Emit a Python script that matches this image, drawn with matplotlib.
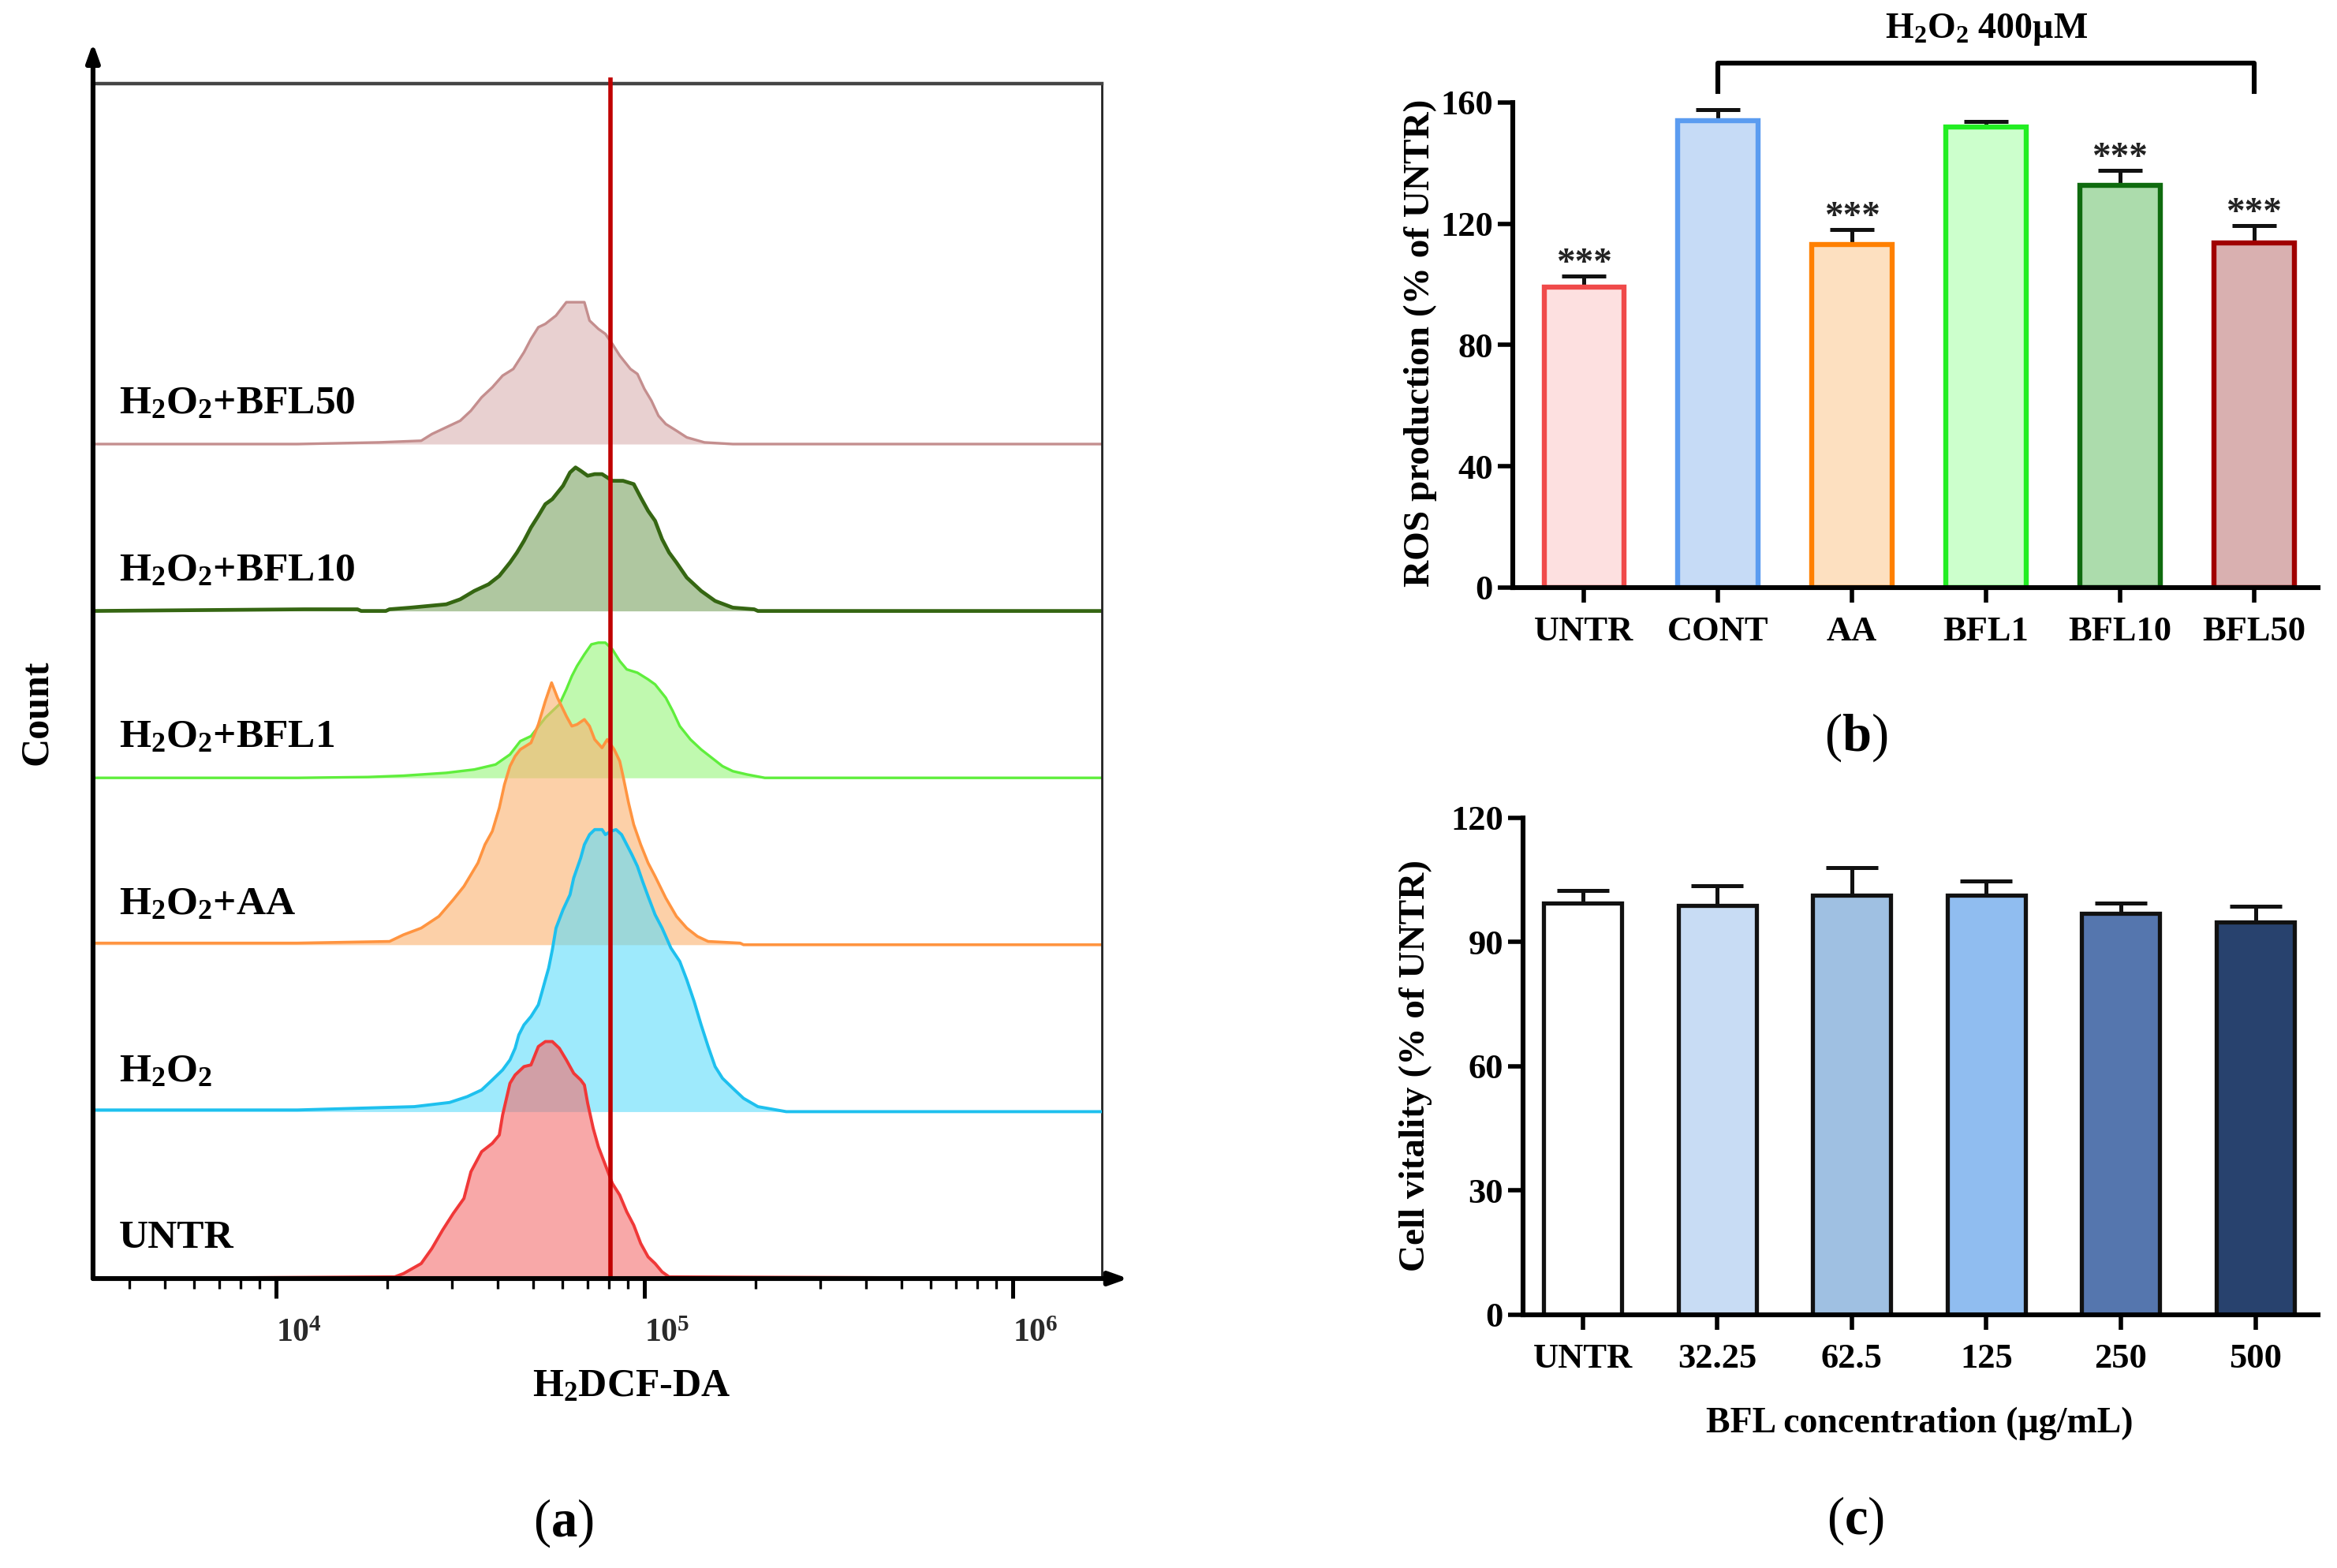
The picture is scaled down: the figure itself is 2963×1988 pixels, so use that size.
import numpy as np
import matplotlib.pyplot as plt
import matplotlib.transforms as mtransforms
from matplotlib.ticker import LogLocator, NullFormatter, FixedLocator

plt.rcParams['font.family'] = ['Liberation Serif', 'DejaVu Serif']
plt.rcParams['font.weight'] = 'bold'
plt.rcParams['mathtext.fontset'] = 'custom'
plt.rcParams['mathtext.rm'] = 'Liberation Serif'
plt.rcParams['mathtext.bf'] = 'Liberation Serif:bold'
plt.rcParams['mathtext.it'] = 'Liberation Serif:italic'
plt.rcParams['mathtext.default'] = 'bf'

# ---- (a) flow cytometry histograms: log10(H2DCF-DA), count in track units ----
untr_logx = [3.50, 4.322, 4.346, 4.394, 4.423, 4.452, 4.481, 4.510, 4.529, 4.558, 4.587, 4.606,
             4.615, 4.635, 4.649, 4.673, 4.692, 4.712, 4.731, 4.750, 4.769, 4.788, 4.808,
             4.827, 4.837, 4.846, 4.861, 4.875, 4.894, 4.913, 4.933, 4.952, 4.971, 4.990,
             5.010, 5.029, 5.048, 5.067, 6.25]
untr_count = [0.0, 0.01, 0.03, 0.09, 0.18, 0.29, 0.39, 0.48, 0.64, 0.76, 0.81, 0.86,
              0.98, 1.17, 1.22, 1.27, 1.28, 1.39, 1.42, 1.42, 1.38, 1.31, 1.23,
              1.19, 1.16, 1.05, 0.90, 0.79, 0.68, 0.57, 0.50, 0.40, 0.32, 0.21,
              0.13, 0.09, 0.04, 0.01, 0.0]

h2o2_logx = [3.50, 4.058, 4.375, 4.471, 4.519, 4.558, 4.587, 4.615, 4.635, 4.649, 4.659, 4.673,
             4.692, 4.712, 4.721, 4.731, 4.740, 4.750, 4.760, 4.779, 4.798, 4.808, 4.827,
             4.837, 4.851, 4.865, 4.885, 4.894, 4.909, 4.923, 4.938, 4.952, 4.966, 4.981,
             4.995, 5.010, 5.029, 5.048, 5.072, 5.096, 5.115, 5.135, 5.154, 5.173, 5.192,
             5.212, 5.240, 5.269, 5.308, 5.385, 6.25]
h2o2_count = [0.01, 0.01, 0.03, 0.055, 0.09, 0.13, 0.19, 0.25, 0.31, 0.38, 0.46, 0.52,
              0.57, 0.64, 0.71, 0.79, 0.86, 0.97, 1.10, 1.21, 1.30, 1.40, 1.52,
              1.60, 1.66, 1.69, 1.69, 1.66, 1.68, 1.69, 1.66, 1.60, 1.54, 1.47,
              1.38, 1.29, 1.18, 1.10, 0.98, 0.90, 0.79, 0.66, 0.52, 0.39, 0.27,
              0.20, 0.14, 0.08, 0.03, 0.0, 0.0]

aa_logx = [3.50, 4.058, 4.308, 4.346, 4.394, 4.442, 4.481, 4.510, 4.529, 4.548, 4.567, 4.587,
           4.606, 4.620, 4.635, 4.649, 4.663, 4.692, 4.712, 4.731, 4.748, 4.764, 4.788,
           4.803, 4.817, 4.837, 4.851, 4.865, 4.885, 4.899, 4.918, 4.933, 4.942, 4.957,
           4.971, 4.990, 5.010, 5.029, 5.058, 5.087, 5.115, 5.144, 5.173, 5.260, 5.269, 6.25]
aa_count = [0.01, 0.01, 0.02, 0.06, 0.10, 0.17, 0.27, 0.35, 0.42, 0.49, 0.60, 0.68,
            0.82, 0.96, 1.07, 1.13, 1.17, 1.21, 1.32, 1.46, 1.57, 1.48, 1.37,
            1.31, 1.32, 1.35, 1.31, 1.23, 1.18, 1.23, 1.17, 1.10, 1.01, 0.85,
            0.72, 0.60, 0.49, 0.41, 0.28, 0.17, 0.10, 0.05, 0.02, 0.01, 0.0, 0.0]

bfl1_logx = [3.50, 4.058, 4.250, 4.346, 4.462, 4.538, 4.596, 4.635, 4.663, 4.692, 4.731, 4.769,
             4.788, 4.803, 4.817, 4.837, 4.856, 4.875, 4.894, 4.913, 4.933, 4.952, 4.981,
             5.010, 5.029, 5.058, 5.077, 5.096, 5.125, 5.154, 5.183, 5.212, 5.240, 5.279,
             5.327, 6.25]
bfl1_count = [0.0, 0.0, 0.005, 0.013, 0.03, 0.05, 0.08, 0.14, 0.22, 0.25, 0.36, 0.44,
              0.53, 0.61, 0.67, 0.74, 0.80, 0.81, 0.81, 0.77, 0.70, 0.65, 0.63,
              0.59, 0.56, 0.48, 0.40, 0.31, 0.23, 0.17, 0.12, 0.07, 0.04, 0.02,
              0.0, 0.0]

bfl10_logx = [3.50, 4.077, 4.221, 4.231, 4.298, 4.308, 4.365, 4.462, 4.500, 4.538, 4.577, 4.606,
              4.635, 4.654, 4.673, 4.692, 4.712, 4.731, 4.750, 4.779, 4.798, 4.813, 4.827,
              4.846, 4.865, 4.885, 4.913, 4.942, 4.971, 4.990, 5.010, 5.029, 5.048, 5.067,
              5.087, 5.115, 5.154, 5.192, 5.240, 5.298, 5.308, 6.25]
bfl10_count = [0.0, 0.01, 0.01, 0.0, 0.0, 0.01, 0.02, 0.04, 0.07, 0.12, 0.16, 0.21,
               0.29, 0.35, 0.42, 0.50, 0.57, 0.64, 0.67, 0.75, 0.83, 0.86, 0.84,
               0.81, 0.82, 0.82, 0.78, 0.78, 0.76, 0.68, 0.60, 0.54, 0.43, 0.35,
               0.29, 0.20, 0.12, 0.06, 0.02, 0.01, 0.0, 0.0]

bfl50_logx = [3.50, 4.058, 4.279, 4.394, 4.423, 4.471, 4.500, 4.529, 4.558, 4.587, 4.615, 4.644,
              4.673, 4.692, 4.712, 4.731, 4.760, 4.788, 4.817, 4.837, 4.851, 4.875, 4.894,
              4.913, 4.933, 4.962, 4.981, 5.000, 5.019, 5.038, 5.058, 5.087, 5.115, 5.163,
              5.240, 6.25]
bfl50_count = [0.0, 0.0, 0.01, 0.02, 0.06, 0.11, 0.14, 0.20, 0.28, 0.34, 0.41, 0.45,
               0.55, 0.63, 0.70, 0.72, 0.77, 0.85, 0.85, 0.85, 0.74, 0.69, 0.66,
               0.60, 0.53, 0.45, 0.42, 0.33, 0.26, 0.17, 0.12, 0.08, 0.04, 0.01,
               0.0, 0.0]

track_labels = ['UNTR', r'H$_2$O$_2$', r'H$_2$O$_2$+AA', r'H$_2$O$_2$+BFL1',
                r'H$_2$O$_2$+BFL10', r'H$_2$O$_2$+BFL50']
gate_logx = 4.908

# ---- (b) ROS production ----
ros_groups = ['UNTR', 'CONT', 'AA', 'BFL1', 'BFL10', 'BFL50']
ros_mean = [99.0, 153.9, 113.1, 151.9, 132.6, 113.6]
ros_top = [102.7, 157.7, 118.0, 153.7, 137.6, 119.5]
ros_signif = ['***', '', '***', '', '***', '***']

# ---- (c) cell vitality ----
vit_groups = ['UNTR', '32.25', '62.5', '125', '250', '500']
vit_mean = [99.4, 98.9, 101.4, 101.4, 96.9, 94.9]
vit_top = [102.5, 103.7, 108.0, 104.7, 99.5, 98.7]

tracks = [(untr_logx, untr_count, '#f46e6e', '#f03838', 1.4),
          (h2o2_logx, h2o2_count, '#5ddcfa', '#1ec0ee', 1.4),
          (aa_logx, aa_count, '#fbb16e', '#ff9440', 1.3),
          (bfl1_logx, bfl1_count, '#96f67b', '#5fee3c', 1.2),
          (bfl10_logx, bfl10_count, '#7ba361', '#356612', 1.7),
          (bfl50_logx, bfl50_count, '#d9b1b1', '#c48e8e', 1.2)]

fig = plt.figure(figsize=(14.815, 9.94), dpi=200)

# ================= panel a =================
ax = fig.add_axes([0.0398, 0.1846, 0.4317, 0.7621])
for i in range(len(tracks) - 1, -1, -1):
    lx, cnt, fc, lc, lw = tracks[i]
    x = 10 ** np.array(lx)
    y = i + np.array(cnt)
    ax.fill_between(x, i, y, color=fc, alpha=0.6, lw=0, zorder=2 + (6 - i) * 0.1)
    ax.plot(x, y, color=lc, lw=lw, zorder=2.05 + (6 - i) * 0.1)
    ax.text(0.026, (i + 0.24) / 7.16, track_labels[i], transform=ax.transAxes,
            fontsize=18.5, va='center', ha='left', zorder=5)

ax.axvline(10 ** gate_logx, ymin=0, ymax=1.003, color='#c00000', lw=2.0, zorder=4, clip_on=False)
ax.set_xscale('log')
ax.set_xlim(10 ** 3.503, 10 ** 6.242)
ax.set_ylim(0, 7.16)
ax.set_yticks([])
ax.xaxis.set_major_locator(FixedLocator([1e4, 1e5, 1e6]))
ax.set_xticklabels([r'$\mathrm{10^{4}}$', r'$\mathrm{10^{5}}$', r'$\mathrm{10^{6}}$'],
                   fontsize=15, color='#2a2a2a', fontweight='normal')
shift = mtransforms.ScaledTranslation(-3 / 72, 0, fig.dpi_scale_trans)
for lab in ax.get_xticklabels():
    lab.set_horizontalalignment('left')
    lab.set_transform(lab.get_transform() + shift)
ax.xaxis.set_minor_locator(LogLocator(base=10, subs=np.arange(2, 10), numticks=20))
ax.xaxis.set_minor_formatter(NullFormatter())
ax.tick_params(axis='x', which='major', direction='out', length=9, width=1.8, pad=9)
ax.tick_params(axis='x', which='minor', direction='out', length=4.5, width=1.2)
ax.spines['left'].set_visible(False)
ax.spines['bottom'].set_visible(False)
ax.spines['top'].set_color('#444444')
ax.spines['top'].set_linewidth(1.6)
ax.spines['right'].set_color('#222222')
ax.spines['right'].set_linewidth(1.0)
arrow = dict(arrowstyle='-|>,head_length=0.7,head_width=0.25', color='black', lw=2.2,
             shrinkA=0, shrinkB=0)
ax.annotate('', xy=(0, 1.034), xytext=(0, 0), xycoords='axes fraction',
            arrowprops=arrow, annotation_clip=False, zorder=6)
ax.annotate('', xy=(1.026, 0), xytext=(0, 0), xycoords='axes fraction',
            arrowprops=arrow, annotation_clip=False, zorder=6)

fig.text(801 / 2963, 1 - 1758 / 1988, r'H$_2$DCF-DA', fontsize=18, ha='center', va='center')
fig.text(47 / 2963, 1 - 903 / 1988, 'Count', fontsize=18, ha='center', va='center', rotation=90)
fig.text(714 / 2963, 1 - 1931 / 1988, r'($\mathbf{a}$)', fontsize=24, fontweight='normal',
         ha='center', va='center')


def style_bar_axes(axb):
    for s in ['top', 'right']:
        axb.spines[s].set_visible(False)
    for s in ['left', 'bottom']:
        axb.spines[s].set_linewidth(2.2)
    axb.tick_params(axis='both', direction='out', length=7, width=2.0, labelsize=16)
    axb.tick_params(axis='x', pad=6)
    axb.tick_params(axis='y', pad=2)


# ================= panel b =================
ros_face = ['#fde0e0', '#c6dbf6', '#fde0c0', '#ccffcc', '#acdcac', '#d9b0b0']
ros_edge = ['#f04a4a', '#5b9cf0', '#ff8000', '#22ee22', '#0f6b0f', '#a00000']
axb = fig.add_axes([0.6473, 0.6253, 0.3446, 0.3094])
xb = np.arange(len(ros_groups))
axb.errorbar(xb, ros_mean, yerr=[np.zeros(len(xb)), np.array(ros_top) - np.array(ros_mean)],
             fmt='none', ecolor='#111111', elinewidth=1.8, capsize=10, capthick=1.8, zorder=1)
axb.bar(xb, ros_mean, width=0.6, color=ros_face, edgecolor=ros_edge, linewidth=2.3, zorder=2)
for i, s in enumerate(ros_signif):
    if s:
        axb.text(xb[i], ros_top[i] + 1.0, s, ha='center', va='baseline', fontsize=17,
                 color='#222222')
axb.set_xlim(-0.533, 5.478)
axb.set_ylim(0, 160)
axb.set_yticks([0, 40, 80, 120, 160])
axb.set_xticks(xb)
axb.set_xticklabels(ros_groups)
style_bar_axes(axb)
axb.plot([1, 1, 5, 5], [163.5, 172.9, 172.9, 163.5], color='black', lw=2.2, clip_on=False)
axb.text(3, 184, r'H$_2$O$_2$ 400µM', ha='center', va='center', fontsize=16.5, clip_on=False)
fig.text(1801 / 2963, 1 - 435 / 1988, 'ROS production (% of UNTR)', fontsize=17,
         rotation=90, ha='center', va='center')
fig.text(2353 / 2963, 1 - 935 / 1988, r'($\mathbf{b}$)', fontsize=24, fontweight='normal',
         ha='center', va='center')

# ================= panel c =================
vit_face = ['#ffffff', '#c8dcf4', '#9fc0e2', '#90bdf0', '#5576ae', '#28426e']
axc = fig.add_axes([0.6517, 0.1615, 0.3402, 0.3169])
xc = np.arange(len(vit_groups))
axc.errorbar(xc, vit_mean, yerr=[np.zeros(len(xc)), np.array(vit_top) - np.array(vit_mean)],
             fmt='none', ecolor='#111111', elinewidth=1.8, capsize=12, capthick=1.8, zorder=1)
axc.bar(xc, vit_mean, width=0.58, color=vit_face, edgecolor='#111111', linewidth=1.9, zorder=2)
axc.set_xlim(-0.443, 5.466)
axc.set_ylim(0, 120)
axc.set_yticks([0, 30, 60, 90, 120])
axc.set_xticks(xc)
axc.set_xticklabels(vit_groups)
style_bar_axes(axc)
fig.text(2434 / 2963, 1 - 1805 / 1988, 'BFL concentration (µg/mL)', fontsize=16.5,
         ha='center', va='center')
fig.text(1795 / 2963, 1 - 1351 / 1988, 'Cell vitality (% of UNTR)', fontsize=17,
         rotation=90, ha='center', va='center')
fig.text(2353 / 2963, 1 - 1928 / 1988, r'($\mathbf{c}$)', fontsize=24, fontweight='normal',
         ha='center', va='center')

fig.savefig('out.png', dpi=200)
